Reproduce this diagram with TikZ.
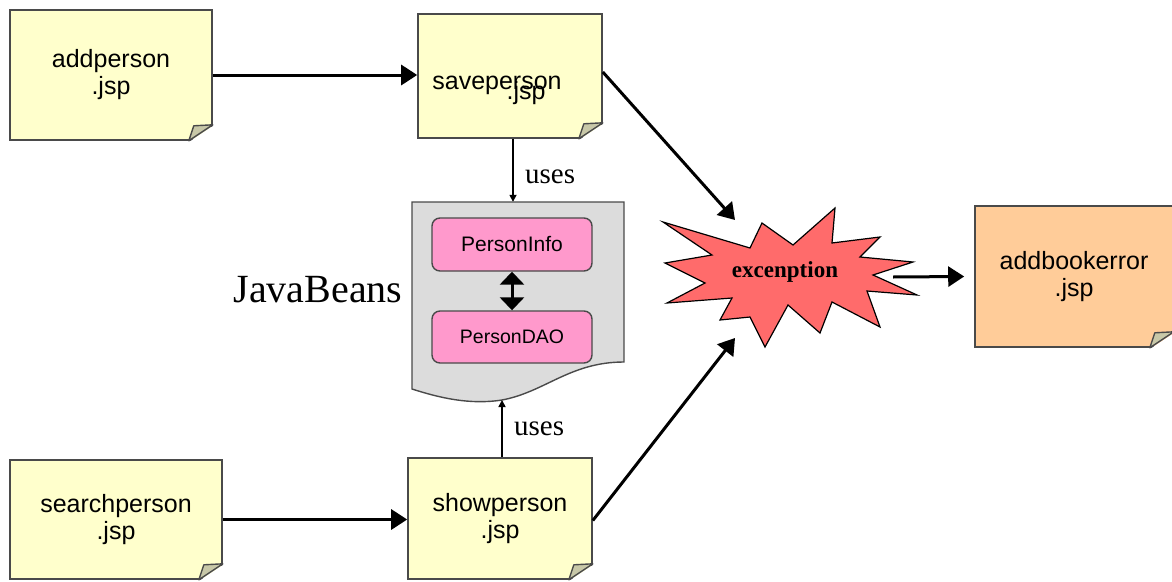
\documentclass[tikz,border=0pt]{standalone}
\usepackage{fontspec}
\setmainfont{Liberation Serif}
\newfontfamily\arialfont{Liberation Sans}
\usetikzlibrary{arrows.meta}
\definecolor{noteyellow}{HTML}{FFFFCC}
\definecolor{notepeach}{HTML}{FFCC99}
\definecolor{beanpink}{HTML}{FF99CC}
\definecolor{docgray}{HTML}{DCDCDC}
\definecolor{burstred}{HTML}{FF6B6B}
\definecolor{edgegray}{HTML}{4A4A4A}
\definecolor{foldgray}{HTML}{C8C8A8}
% folded corner of a note node
\newcommand{\notefold}[1]{%
  \fill[white] ([xshift=-25pt,yshift=-2pt]#1.south east) -- ([xshift=2pt,yshift=-2pt]#1.south east) -- ([xshift=2pt,yshift=16pt]#1.south east) -- cycle;
  \draw[edgegray,line width=1.4pt,fill=foldgray,line join=round] ([xshift=-24pt]#1.south east) -- ([yshift=16pt]#1.south east) -- ([xshift=-19pt,yshift=15pt]#1.south east) -- cycle;}
\begin{document}
\begin{tikzpicture}[x=1pt,y=-1pt,
    note/.style={draw=edgegray,line width=1.6pt,fill=noteyellow,align=center,inner sep=0pt,font=\arialfont\fontsize{25}{27}\selectfont},
    bean/.style={draw=edgegray,line width=1.4pt,fill=beanpink,rounded corners=8pt,minimum width=160pt,inner sep=0pt,font=\arialfont\fontsize{21}{23}\selectfont},
    bigarrow/.style={-{Triangle[length=16pt,width=20pt]},line width=3pt},
    usesarrow/.style={-{Triangle[length=7pt,width=7pt]},line width=1.6pt},
    usesfont/.style={font=\fontsize{29}{31}\selectfont}
]
\useasboundingbox (0,0) rectangle (1172,581);

% jsp pages
\node[note,minimum width=202pt,minimum height=130pt] (add) at (111,75) {addperson\\.jsp};
\node[note,minimum width=184pt,minimum height=124pt] (save) at (510,76) {};
\node[anchor=base,font=\arialfont\fontsize{25}{27}\selectfont] (savename) at (497,89) {saveperson};
\node[anchor=base,font=\arialfont\fontsize{25}{27}\selectfont] (savejsp) at (526,99) {.jsp};
\node[note,minimum width=212pt,minimum height=119pt] (search) at (116,519.5) {searchperson\\.jsp};
\node[note,minimum width=184pt,minimum height=121pt] (show) at (500,518.5) {showperson\\.jsp};
\node[note,fill=notepeach,minimum width=198pt,minimum height=141pt] (err) at (1074,276.5) {addbookerror\\.jsp};
\notefold{add}
\notefold{save}
\notefold{search}
\notefold{show}
\notefold{err}

% JavaBeans document
\node[minimum width=212pt,minimum height=188pt] (beans) at (518,296) {};
\draw[edgegray,line width=1.4pt,fill=docgray] (412,202) -- (624,202) -- (624,362)
  .. controls (570,362) and (545,392) .. (502,400)
  .. controls (470,405) and (440,398) .. (412,389) -- cycle;
\coordinate (wavebot) at (502,400);
\node[bean,minimum height=53pt] (info) at (512,244.5) {PersonInfo};
\node[bean,minimum height=52pt,font=\arialfont\fontsize{19.5}{21}\selectfont] (dao) at (512,337) {PersonDAO};
\draw[{Triangle[length=13pt,width=24pt]}-{Triangle[length=13pt,width=24pt]},line width=3pt] (info.south) -- (dao.north);
\node[font=\fontsize{40}{42}\selectfont] (javabeans) at (318,290) {JavaBeans};

% exception
\draw[black,line width=1.2pt,fill=burstred,line join=miter]
  (663,222) -- (750,248) -- (762,223) -- (793,245) -- (835,208) -- (832,243)
  -- (880,237) -- (860,257) -- (913,262) -- (873,275) -- (917,295) -- (867,291)
  -- (880,327) -- (832,302) -- (820,333) -- (788,305) -- (765,347) -- (750,317)
  -- (720,320) -- (732,298) -- (667,303) -- (705,283) -- (665,263) -- (712,255) -- cycle;
\node[font=\bfseries\fontsize{23}{25}\selectfont] (burst) at (785,272) {excenption};

% flow
\draw[bigarrow] (add.east) -- (add.east -| save.west);
\draw[bigarrow] (search.east) -- (search.east -| show.west);
\draw[usesarrow] ([xshift=3pt]save.south) -- ([xshift=3pt]save.south |- beans.north) node[pos=0.6,right=8pt,usesfont] {uses};
\draw[usesarrow] ([xshift=2pt]show.north) -- (wavebot) node[midway,right=8pt,usesfont] {uses};
\draw[bigarrow] ([yshift=4pt]save.east) -- ([xshift=-50pt,yshift=52pt]burst.center);
\draw[bigarrow] ([yshift=-2pt]show.east) -- ([xshift=-50pt,yshift=-66pt]burst.center);
\draw[bigarrow] ([xshift=108pt,yshift=-5pt]burst.center) -- ([xshift=-10pt]err.west);
\end{tikzpicture}
\end{document}
